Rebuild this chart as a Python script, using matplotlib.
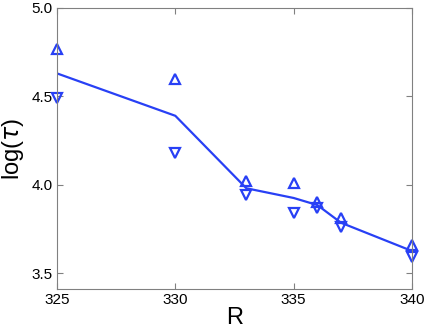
import numpy as np
import matplotlib
matplotlib.use("Agg")
import matplotlib.pyplot as plt

plt.rcParams['font.family'] = ['Liberation Sans', 'DejaVu Sans']
plt.rcParams['mathtext.fontset'] = 'dejavusans'

R = [325, 330, 333, 335, 336, 337, 340]
upper = [4.77, 4.60, 4.02, 4.01, 3.90, 3.81, 3.66]
lower = [4.49, 4.18, 3.94, 3.84, 3.87, 3.76, 3.59]
mean = (np.array(upper) + np.array(lower)) / 2

blue = '#2840f5'

fig = plt.figure(figsize=(4.26, 3.27), dpi=100)
ax = fig.add_axes([57 / 426, 1 - 289 / 327, 355 / 426, 281 / 327])

ax.plot(R, mean, color=blue, lw=1.6)
ax.plot(R, upper, '^', mfc='none', mec=blue, mew=1.6, ms=6.5, clip_on=False)
ax.plot(R, lower, 'v', mfc='none', mec=blue, mew=1.6, ms=6.5, clip_on=False)

ax.set_xlim(325, 340)
ax.set_ylim(3.41, 5.0)
ax.set_xticks([325, 330, 335, 340])
ax.set_yticks([3.5, 4.0, 4.5, 5.0])
ax.set_yticklabels(['3.5', '4.0', '4.5', '5.0'])
ax.tick_params(direction='in', top=True, right=True, labelsize=11, length=4,
               color='#808080', pad=3)
for s in ax.spines.values():
    s.set_color('#808080')

ax.set_xlabel('R', fontsize=17, labelpad=0)
ax.set_ylabel(r'log($\tau$)', fontsize=17, labelpad=4)

fig.savefig('out.png', dpi=100)
